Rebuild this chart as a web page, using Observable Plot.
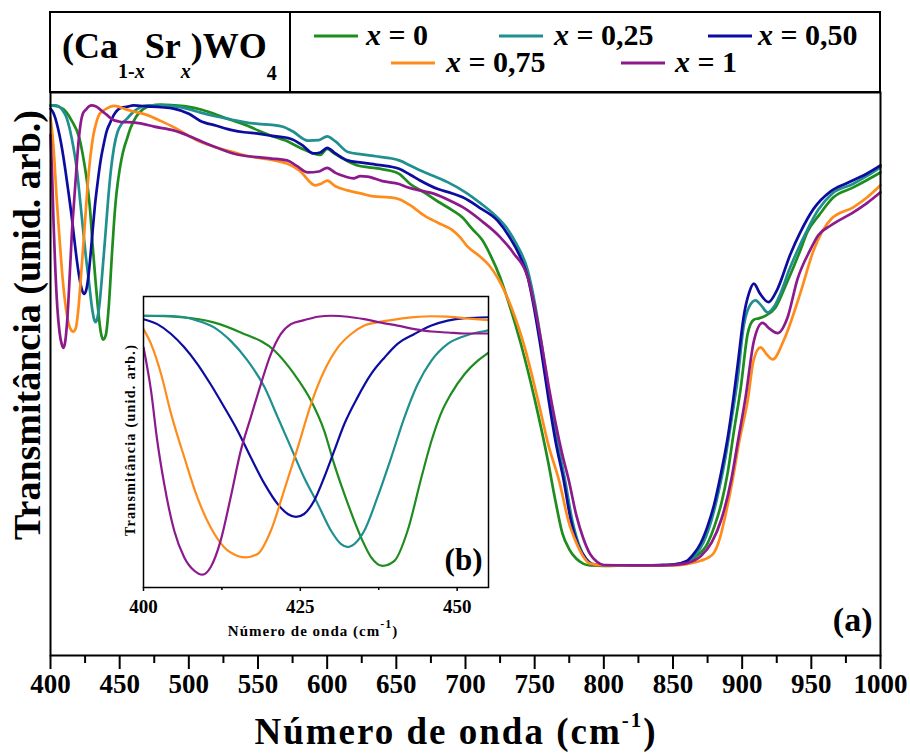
<!DOCTYPE html>
<html><head><meta charset="utf-8">
<script src="https://cdn.jsdelivr.net/npm/d3@7"></script>
<script src="https://cdn.jsdelivr.net/npm/@observablehq/plot@0.6"></script>
<style>
body{margin:0;background:#fff;}
#wrap{position:relative;width:910px;height:754px;overflow:hidden;}
#wrap svg{position:absolute;left:0;top:0;}
</style></head><body><div id="wrap"></div>
<script>
// ---- data: wavenumber (cm-1), transmittance (arb. units) ----
const seriesNames = ["x = 0", "x = 0,25", "x = 0,50", "x = 0,75", "x = 1"];
const seriesColors = ["#1e8c1e", "#1f8f8f", "#0c0ca0", "#ff8c1a", "#8c1a8c"];

const s_x0 = [[400,99.6],[406,99.3],[411.3,98.2],[415.5,96.2],[420.9,92.5],[424,87.8],[426.7,82.4],[428.8,76.3],[430.4,69.5],[432.6,61.4],[434.7,54.6],[436.3,50.6],[438.1,48.9],[440,49.9],[442.1,56.0],[444.3,66.8],[445.9,74.2],[447.4,79.7],[449,83.7],[451.2,87.8],[453.3,90.5],[455.1,92.2],[458,94.8],[462,97.2],[467,98.8],[472,99.5],[480,99.8],[490,99.6],[500,99.3],[510,98.6],[520,97.6],[530,96.5],[540,95.5],[550,94.2],[560,93.0],[570,92.0],[580,90.5],[590,89.2],[595,88.9],[600,90.2],[605,89.2],[615,87.5],[622,86.6],[630,86.2],[638,85.9],[645,85.5],[652,84.8],[660,82.6],[670,80.8],[680,78.8],[690,77.0],[698,75.3],[705,72.8],[712,70.5],[718,67.2],[725,62.4],[730,58],[740,48],[750,36],[760,22],[765,14],[770,7],[775,3.5],[780,1.5],[785,0.4],[790,0],[800,-0.1],[820,0],[840,0],[850,0.1],[860,0.6],[866,1.8],[875,4.8],[880,8.5],[885,13.5],[889.5,20],[894,29],[899,38.5],[904,50.2],[908.4,53.2],[912,53.5],[917,54.1],[924,55.8],[932,61],[942,68.2],[947,72.1],[956,76],[966,79.7],[980,81.8],[990,83.4],[1000,85.1]];

const s_x025 = [[400,99.6],[403.3,99.6],[406,99.4],[408.6,98.6],[411.3,97.2],[413.9,94.5],[416.6,90.5],[419.3,85.1],[421.4,79.0],[423.5,72.9],[425.6,66.8],[427.8,61.4],[429.9,56.0],[431.5,53.3],[432.6,52.7],[433.6,53.3],[435.2,56.0],[437.3,62.8],[439.5,70.9],[441.6,79.0],[443.7,85.7],[445.9,90.5],[448.5,93.9],[451.2,95.5],[455.1,96.7],[460,98.2],[465,99.2],[470,99.6],[480,99.6],[490,99.4],[500,98.8],[508,98.1],[520,97.2],[530,96.6],[540,96.0],[550,95.6],[560,95.4],[568,95.0],[575,94.0],[586,92.0],[594,92.1],[600,92.9],[606,91.8],[615,89.5],[625,89.0],[635,88.6],[645,88.2],[652,87.7],[660,86.6],[667.5,85.5],[677,84.3],[687,83.0],[700,80.8],[711,78.4],[720,76.2],[730,73],[737,69.5],[745,63.9],[750,57],[755,48],[760,38],[765,29],[772,18.4],[777,10],[782,4.5],[787,1.5],[792,0.3],[800,0],[820,0],[840,0],[850,0.2],[860,0.8],[866,2.2],[872,5],[878,10],[883,16],[888,23.5],[892,31],[896.6,40],[901,51.6],[905,56],[909.7,57.4],[914,56.2],[918.4,54.8],[923,56],[928,59.1],[934,64],[940,68.2],[946,72],[955,77],[965,80.5],[980,82.6],[990,84.3],[1000,86.2]];

const s_x050 = [[400,98.9],[402.2,97.9],[404.4,95.9],[406.5,93.2],[408.6,89.8],[410.7,85.7],[412.9,81.0],[415,76.3],[417.1,70.9],[419.3,65.5],[421.4,61.4],[423,59.4],[424.3,58.8],[425.6,59.4],[427.2,62.1],[428.8,66.8],[430.4,72.2],[432,77.6],[434.1,83.0],[436.3,87.8],[438.4,91.1],[440.5,93.9],[443.2,95.9],[445.9,97.6],[448.5,98.6],[451.2,99.1],[455.1,99.3],[460,99.6],[470,99.4],[480,99.2],[489,98.9],[500,97.8],[508,96.3],[520,95.2],[532,94.2],[540,93.8],[550,93.5],[560,93.0],[573.5,92.4],[582,91],[590,89.2],[595,89.4],[600,90.4],[606,89.2],[614.7,87.7],[625,87.2],[635,86.8],[645,86.4],[652,85.9],[660,84.6],[667.5,83.3],[680,81.5],[690,80.6],[698,79.7],[710,77.5],[723,74.7],[732,71],[740,66.5],[745,62.4],[750,55],[755,46],[760,36],[765,27],[771,18.4],[776,10],[782,4],[787,1.5],[792,0.2],[800,0],[820,0],[840,0.1],[850,0.2],[860,1],[865,2.5],[870,4.8],[875,8.5],[880,13.5],[884.4,19.5],[890,28.5],[893.8,36.5],[897,44],[901,53.7],[905,59],[908.4,61.0],[913,58.8],[919,57.0],[925,59.5],[935,67.5],[942,72.1],[951.6,77.2],[964,81.0],[976,82.8],[990,84.8],[1000,86.6]];

const s_x075 = [[400,96.9],[401.2,93.9],[402.8,87.8],[404.4,79.7],[406.5,70.9],[408.6,62.7],[410.7,56.7],[412.9,52.6],[415,50.9],[416.3,50.6],[418.2,51.3],[420.3,56.0],[422.4,64.1],[424.6,72.9],[426.7,81.7],[428.8,88.4],[431,93.2],[433.1,95.9],[435.2,97.6],[437.9,98.4],[440.5,98.9],[443.2,99.3],[445.9,99.5],[448.5,99.4],[451.2,99.1],[455.1,98.7],[460,98.3],[470,97.5],[480,96.2],[489,94.9],[500,93.0],[510,91.5],[520,90.5],[532,89.5],[545,88.5],[560,87.8],[571,87.0],[580,85.5],[591.5,82.3],[596,82.7],[600,83.3],[606,82.1],[614.7,81.2],[625,80.5],[633.5,79.9],[645,79.7],[652,79.3],[660,78.0],[670,75.8],[680,74.2],[690,72.7],[696,71.1],[701,69.2],[710,67.0],[717,65],[723,62.4],[733,56],[743,47],[753,35],[760,26],[767.6,18.4],[775,9],[780,5],[785,2],[790,0.4],[800,0],[820,0],[840,0],[850,0],[860,0.3],[870,1.0],[879,2.5],[884,6],[888,11],[893,18.4],[898,27],[904,35.7],[908.4,44.6],[913.3,47.2],[918,45.6],[922,44.6],[930,48.7],[942,58.9],[951.6,68.2],[964,74.9],[980.6,77.6],[990,79.6],[1000,82.3]];

const s_x1 = [[400,93.2],[401.2,84.4],[402.2,74.2],[403.3,65.5],[404.9,56.0],[406.5,50.6],[408.1,47.9],[409.4,47.1],[410.7,48.6],[412.3,54.0],[413.9,62.8],[415.5,72.2],[417.1,79.0],[418.7,85.7],[420.3,91.8],[421.9,95.9],[423.5,97.9],[425.6,98.7],[427.8,99.4],[429.9,99.6],[432.6,99.4],[435.2,98.9],[437.9,98.2],[440.5,97.6],[443.2,96.9],[445.9,96.4],[448.5,96.2],[451.2,96.0],[455.1,96.0],[465,95.7],[475,95.0],[489,94.2],[500,93.0],[510,91.7],[520,90.5],[532,89.2],[540,88.7],[550,88.4],[560,88.1],[571,87.7],[578,86.5],[586,85.1],[594,85.3],[600,86.1],[606,85.0],[613,84.2],[619,83.8],[624,84.3],[629,84.2],[640,83.2],[652,82.6],[658,81.9],[667,81.2],[677,80.5],[690,78.8],[700,77.2],[712,74.5],[725,71.1],[735,67.5],[745,62.4],[750,56],[755,48],[760,39],[765,31],[770,24],[774.7,18.4],[780,11],[785,6],[790,2.5],[795,0.8],[800,0.1],[820,0],[840,0],[850,0.1],[860,0.5],[870,2],[878,5],[885,10],[892,18.4],[897,27],[902.5,36.5],[908.4,48.5],[914.7,52.5],[920,51.2],[925.6,50.3],[932.8,53.7],[940,62],[949,68.2],[955,71.5],[964,73.6],[980.6,76.5],[990,78.4],[1000,80.8]];

const xTicks = [400,450,500,550,600,650,700,750,800,850,900,950,1000];
const xMinorTicks = [425,475,525,575,625,675,725,775,825,875,925,975];
const insetTicks = [400,425,450];
const insetMinorTicks = [412.5,437.5];

// ---- build table ----
const allSeries = [s_x0, s_x025, s_x050, s_x075, s_x1];
const rows = [];
allSeries.forEach((arr, i) => arr.forEach(([w, t]) => rows.push({serie: seriesNames[i], w, t})));
const insetRows = rows.filter(d => d.w <= 462);

const serif = "'Liberation Serif','Times New Roman',serif";

const main = Plot.plot({
  width: 910, height: 754,
  marginLeft: 50, marginRight: 30, marginTop: 92, marginBottom: 99,
  style: {fontFamily: serif, fontWeight: "bold", background: "white", color: "black"},
  x: {domain: [400, 1000]},
  y: {domain: [-19.5, 102.4], axis: null},
  color: {domain: seriesNames, range: seriesColors},
  marks: [
    Plot.line(rows, {x: "w", y: "t", stroke: "serie", strokeWidth: 2.7, curve: "monotone-x"}),
    Plot.frame({stroke: "black", strokeWidth: 2}),
    Plot.axisX({ticks: xTicks, tickSize: 14, tickPadding: 4, strokeWidth: 2, fontSize: 27, label: null, tickFormat: d => String(d)}),
    Plot.axisX({ticks: xMinorTicks, tickSize: 8, strokeWidth: 2, label: null, tickFormat: () => ""}),
    Plot.text(["(a)"], {frameAnchor: "bottom-right", dx: -8, dy: -25, fontSize: 34, fontWeight: "bold"})
  ]
});

const inset = Plot.plot({
  width: 390, height: 355,
  marginLeft: 33, marginRight: 12, marginTop: 6, marginBottom: 58,
  style: {fontFamily: serif, fontWeight: "bold", background: "transparent", color: "black"},
  x: {domain: [400, 455]},
  y: {domain: [44.5, 103.5], axis: null},
  color: {domain: seriesNames, range: seriesColors},
  marks: [
    Plot.frame({fill: "white"}),
    Plot.line(insetRows, {x: "w", y: "t", stroke: "serie", strokeWidth: 2.2, curve: "monotone-x", clip: true}),
    Plot.frame({stroke: "black", strokeWidth: 1.5}),
    Plot.axisX({ticks: insetTicks, tickSize: 4, tickPadding: 8, strokeWidth: 1.5, fontSize: 19, label: null, tickFormat: d => String(d)}),
    Plot.axisX({ticks: insetMinorTicks, tickSize: 3, strokeWidth: 1.5, label: null, tickFormat: () => ""}),
    Plot.text(["(b)"], {frameAnchor: "bottom-right", dx: -6, dy: -18, fontSize: 31, fontWeight: "bold"})
  ]
});

const wrap = document.getElementById("wrap");
wrap.appendChild(main);
inset.style.left = "110px";
inset.style.top = "290px";
wrap.appendChild(inset);

// ---- main axis titles ----
const ms = d3.select(main);
ms.append("text")
  .attr("transform", "translate(31,325) rotate(-90)")
  .attr("text-anchor", "middle").attr("dominant-baseline", "middle")
  .attr("font-size", 38).attr("font-weight", "bold").attr("fill", "black")
  .text("Transmitância (unid. arb.)");

const xt = ms.append("text")
  .attr("x", 456).attr("y", 744)
  .attr("text-anchor", "middle")
  .attr("font-size", 37).attr("font-weight", "bold").attr("fill", "black")
  .attr("letter-spacing", 2);
xt.append("tspan").text("Número de onda (cm");
xt.append("tspan").attr("font-size", 21).attr("dy", -17).text("-1");
xt.append("tspan").attr("dy", 17).text(")");

// ---- legend box ----
ms.append("rect").attr("x", 50).attr("y", 12).attr("width", 830).attr("height", 80)
  .attr("fill", "none").attr("stroke", "black").attr("stroke-width", 2);
ms.append("line").attr("x1", 290).attr("x2", 290).attr("y1", 12).attr("y2", 92)
  .attr("stroke", "black").attr("stroke-width", 2);

const ttl = ms.append("text").attr("x", 62).attr("y", 58)
  .attr("text-anchor", "start")
  .attr("font-size", 36).attr("font-weight", "bold").attr("fill", "black");
ttl.append("tspan").text("(Ca");
const sub1 = ttl.append("tspan").attr("font-size", 20).attr("dy", 20);
sub1.append("tspan").text("1-");
sub1.append("tspan").attr("font-style", "italic").text("x");
ttl.append("tspan").attr("font-size", 36).attr("dy", -20).text("Sr");
ttl.append("tspan").attr("font-size", 20).attr("dy", 20).attr("font-style", "italic").text("x");
ttl.append("tspan").attr("font-size", 36).attr("dy", -20).text(")WO");
ttl.append("tspan").attr("font-size", 20).attr("dy", 22).text("4");

const legendPos = [
  {lx: 314, tx: 366, y: 45},
  {lx: 499, tx: 554, y: 45},
  {lx: 708, tx: 758, y: 45},
  {lx: 391, tx: 446, y: 72},
  {lx: 621, tx: 675, y: 72}
];
seriesNames.forEach((name, i) => {
  const p = legendPos[i];
  ms.append("line").attr("x1", p.lx).attr("x2", p.lx + 44).attr("y1", p.y - 9).attr("y2", p.y - 9)
    .attr("stroke", seriesColors[i]).attr("stroke-width", 3);
  const t = ms.append("text").attr("x", p.tx).attr("y", p.y)
    .attr("text-anchor", "start")
    .attr("font-size", 30).attr("font-weight", "bold").attr("fill", "black");
  t.append("tspan").attr("font-style", "italic").text("x");
  t.append("tspan").text(name.slice(1));
});

// ---- inset titles ----
const is = d3.select(inset);
is.append("text")
  .attr("transform", "translate(22,150) rotate(-90)")
  .attr("text-anchor", "middle").attr("dominant-baseline", "middle")
  .attr("font-size", 14).attr("font-weight", "bold").attr("fill", "black")
  .attr("letter-spacing", 1.3)
  .text("Transmitância (unid. arb.)");
const ixt = is.append("text")
  .attr("x", 203).attr("y", 346)
  .attr("text-anchor", "middle")
  .attr("font-size", 15).attr("font-weight", "bold").attr("fill", "black")
  .attr("letter-spacing", 1);
ixt.append("tspan").text("Número de onda (cm");
ixt.append("tspan").attr("font-size", 12).attr("dy", -8).text("-1");
ixt.append("tspan").attr("dy", 8).text(")");
</script></body></html>
